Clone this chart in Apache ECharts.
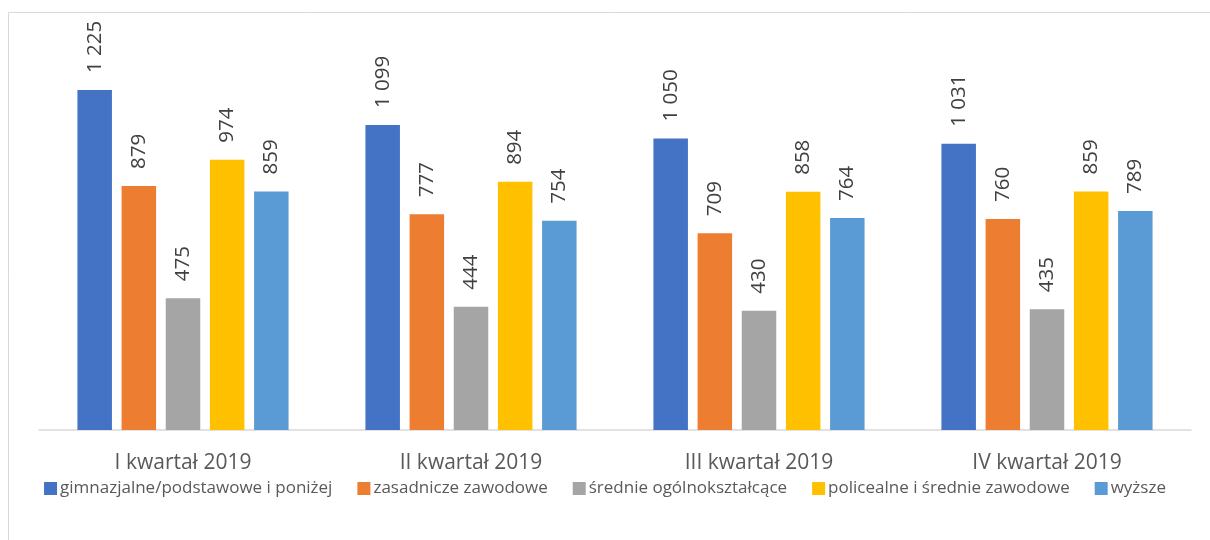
<!DOCTYPE html>
<html><head><meta charset="utf-8">
<script src="https://cdn.jsdelivr.net/npm/echarts@6/dist/echarts.min.js"></script>
<style>html,body{margin:0;padding:0;background:#fff}#c{width:1210px;height:540px}</style>
</head><body><div id="c"></div>
<script>
const categories = ['I kwartał 2019','II kwartał 2019','III kwartał 2019','IV kwartał 2019'];
const seriesNames = ['gimnazjalne/podstawowe i poniżej','zasadnicze zawodowe','średnie ogólnokształcące','policealne i średnie zawodowe','wyższe'];
const gimnazjalne = [1225, 1099, 1050, 1031];
const zasadnicze = [879, 777, 709, 760];
const srednieOgolne = [475, 444, 430, 435];
const policealne = [974, 894, 858, 859];
const wyzsze = [859, 754, 764, 789];
const colors = ['#4472C4','#ED7D31','#A5A5A5','#FFC000','#5B9BD5'];
const allData = [gimnazjalne, zasadnicze, srednieOgolne, policealne, wyzsze];
const fontFam = '"Open Sans", "Noto Sans", sans-serif';
const fmt = v => String(v).replace(/\B(?=(\d{3})+(?!\d))/g, ' ');
const chart = echarts.init(document.getElementById('c'));
chart.setOption({
  animation: false,
  color: colors,
  graphic: [{type:'rect', shape:{x:8.5,y:12.5,width:1300,height:600}, style:{fill:'none', stroke:'#d9d9d9', lineWidth:1}, silent:true}],
  grid: {left: 39, right: 19, top: 41.4, bottom: 110, containLabel: false},
  legend: {
    data: seriesNames, bottom: 38, left: 'center', itemWidth: 13, itemHeight: 13, itemGap: 25,
    icon: 'rect', textStyle: {color: '#595959', fontSize: 17, fontFamily: fontFam, padding:[0,0,0,-2]}
  },
  xAxis: {
    type: 'category', data: categories,
    axisLine: {lineStyle: {color: '#d9d9d9', width: 1.5}},
    axisTick: {show: false},
    axisLabel: {color: '#595959', fontSize: 21, fontFamily: fontFam, margin: 23}
  },
  yAxis: {type: 'value', min: 0, max: 1400, show: false, splitLine: {show: false}},
  series: seriesNames.map((n, i) => ({
    name: n, type: 'bar', data: allData[i], barWidth: 34.5, barGap: '28%',
    itemStyle: {color: colors[i]},
    label: {show: true, position: 'top', rotate: 90, align: 'left', verticalAlign: 'middle', distance: 17,
      color: '#404040', fontSize: 20.5, fontFamily: fontFam, formatter: p => fmt(p.value)}
  }))
});
</script></body></html>
